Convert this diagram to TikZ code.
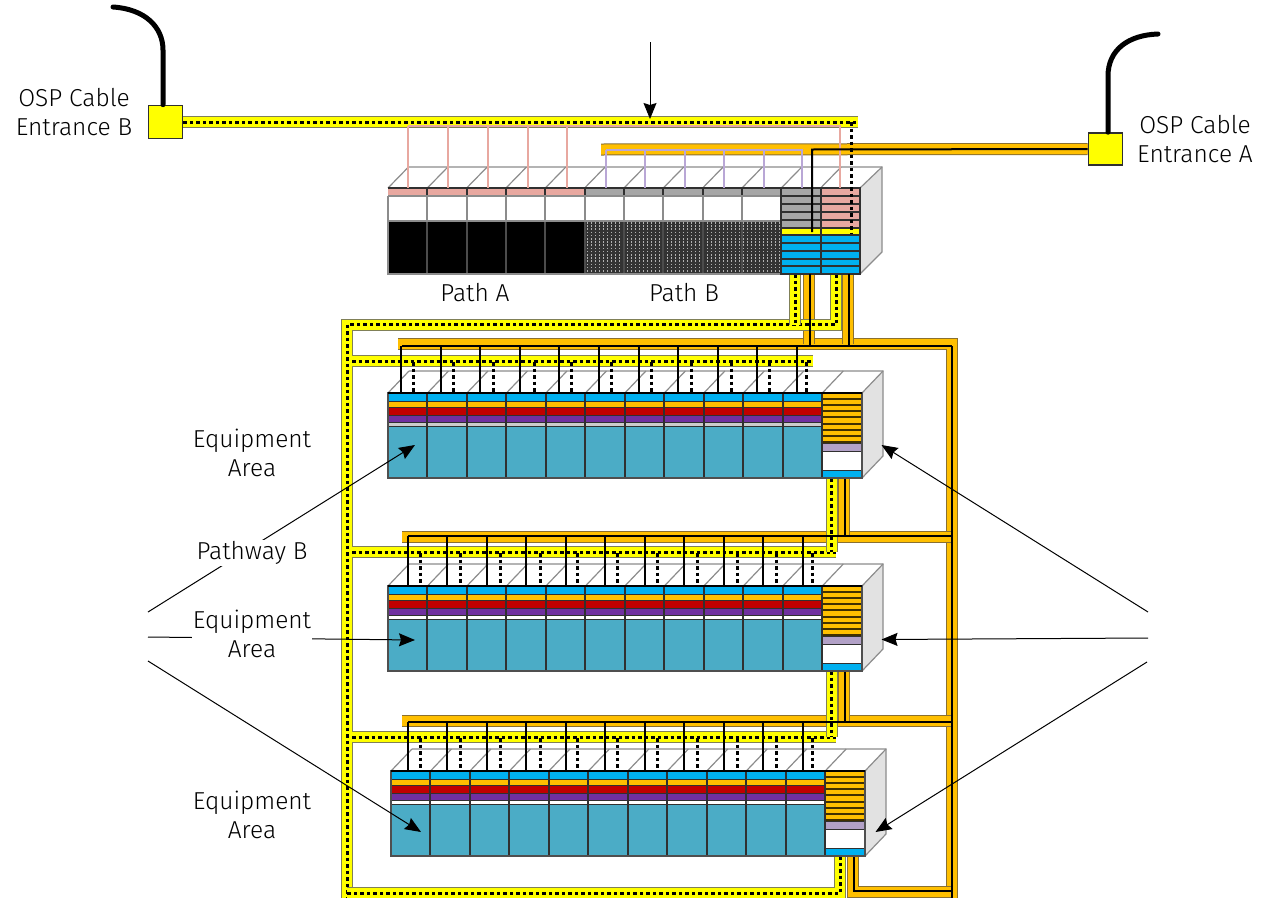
\documentclass[tikz,border=0pt]{standalone}
\usepackage{fontspec}
\setmainfont{Fira Sans Light}
\usetikzlibrary{arrows.meta}
\definecolor{ybord}{HTML}{808058}
\definecolor{ytray}{HTML}{FFFF00}
\definecolor{obord}{HTML}{8A7030}
\definecolor{otray}{HTML}{FFBF00}
\definecolor{pinkc}{HTML}{E8A8A0}
\definecolor{lilac}{HTML}{B9A7D6}
\definecolor{graycell}{HTML}{A6A6A6}
\definecolor{bluec}{HTML}{00B0F0}
\definecolor{redc}{HTML}{C00000}
\definecolor{purplec}{HTML}{7030A0}
\definecolor{tealc}{HTML}{4BACC6}
\definecolor{stripep}{HTML}{B2A1C7}
\definecolor{sideg}{HTML}{E2E2E2}
\definecolor{edge}{HTML}{8C8C8C}
\definecolor{darkedge}{HTML}{303030}
\tikzset{
  ybase/.style={line width=12pt,draw=ybord},
  yfill/.style={line width=10pt,draw=ytray},
  ydots/.style={line width=3pt,draw=black,dash pattern=on 3.5pt off 3pt},
  obase/.style={line width=12pt,draw=obord},
  ofill/.style={line width=10pt,draw=otray},
  blackline/.style={line width=2pt,draw=black},
  dashline/.style={line width=3pt,draw=black,dash pattern=on 3.5pt off 3pt},
  edgeline/.style={line width=1.2pt,draw=edge},
  sepline/.style={line width=2pt,draw=darkedge},
  cable/.style={line width=5pt,draw=black,line cap=round},
  entrance/.style={draw=darkedge,line width=1.6pt,fill=ytray,minimum width=34pt,minimum height=33pt,inner sep=0pt},
  lbl/.style={font=\fontsize{24.5}{28.5}\selectfont,align=center,text=black,inner sep=1pt},
  lblbg/.style={lbl,fill=white},
  pointer/.style={line width=1pt,draw=black,-{Stealth[length=16pt,width=13pt,inset=2pt]}},
}
\newcommand{\ypath}[1]{\draw[ybase] #1; \draw[yfill] #1; \draw[ydots] #1;}
\newcommand{\opath}[1]{\draw[obase] #1; \draw[ofill] #1;}
% equipment row: x0, ytop, cell width, thin band colour
\newcommand{\equiprow}[4]{%
  \begin{scope}[shift={(#1,#2)}]
    \pgfmathsetmacro{\cw}{#3}
    \pgfmathsetmacro{\xr}{round(12*\cw)}
    \pgfmathsetmacro{\xl}{round(11*\cw)}
    \fill[white] (0,0) -- (21,-22) -- ({\xr+21},-22) -- (\xr,0) -- cycle;
    \fill[sideg] (\xr,0) -- ({\xr+21},-22) -- ({\xr+21},63) -- (\xr,85) -- cycle;
    \draw[edgeline] (21,-22) -- ({\xr+21},-22) -- ({\xr+21},63) -- (\xr,85);
    \draw[edgeline] (\xr,0) -- ({\xr+21},-22);
    \foreach \i in {0,...,11} {\draw[edgeline] ({\i*\cw},0) -- ({\i*\cw+21},-22);}
    \fill[bluec]   (0,0) rectangle (\xl,8);
    \fill[otray]   (0,8) rectangle (\xl,14);
    \fill[redc]    (0,14) rectangle (\xl,22);
    \fill[purplec] (0,22) rectangle (\xl,29);
    \fill[#4] (0,29) rectangle (\xl,33);
    \fill[tealc]   (0,33) rectangle (\xl,85);
    \foreach \yy in {8,14,22,29,33} {\draw[line width=1pt,draw=darkedge] (0,\yy) -- (\xl,\yy);}
    \fill[otray] (\xl,0) rectangle (\xr,50);
    \foreach \k in {1,...,8} {\draw[line width=1.5pt,draw=black!75!otray] (\xl,{round(\k*6.1)}) -- (\xr,{round(\k*6.1)});}
    \fill[stripep] (\xl,50) rectangle (\xr,58);
    \fill[white] (\xl,58) rectangle (\xr,77);
    \fill[bluec] (\xl,77) rectangle (\xr,85);
    \foreach \yy in {50,58,77} {\draw[line width=1pt,draw=darkedge] (\xl,\yy) -- (\xr,\yy);}
    \foreach \i in {1,...,11} {\draw[sepline] ({round(\i*\cw)},0) -- ({round(\i*\cw)},85);}
    \draw[line width=1.4pt,draw=darkedge!85!white] (0,0) rectangle (\xr,85);
    \draw[line width=2pt,draw=black] (0,0) -- (\xr,0);
  \end{scope}%
}
\begin{document}
\begin{tikzpicture}[x=1pt,y=-1pt]
\useasboundingbox (0,0) rectangle (1274,897);
\fill[white] (0,0) rectangle (1274,897);

% ---- entrances and cables
\node[entrance] (entB) at (165.5,122) {};
\node[entrance,minimum height=32pt] (entA) at (1105.5,149) {};
\draw[cable] (113,7) .. controls (145,9) and (163,27) .. (163,50) -- (entB.north -| 163,105);
\draw[cable] (1158,34) .. controls (1128,35) and (1108,50) .. (1108,76) -- (entA.north -| 1108,133);

% ---- trays behind everything: orange
\opath{(601,149.5) -- (entA.west)}
\opath{(398,344) -- (951.5,344) -- (951.5,902)}
\opath{(402,537) -- (951.5,537)}
\opath{(402,721) -- (951.5,721)}
\opath{(808.5,274) -- (808.5,344)}
\opath{(848,274) -- (848,344)}
\opath{(844,478) -- (844,537)}
\opath{(844,671) -- (844,721)}
\opath{(853,856) -- (853,892) -- (951.5,892)}

% ---- yellow trays
\ypath{(entB.east) -- (858,122)}
\ypath{(836,274) -- (836,324.5) -- (347,324.5) -- (347,902)}
\ypath{(795,274) -- (795,324.5)}
\ypath{(352,361) -- (813,361)}
\ypath{(352,552) -- (836,552)}
\ypath{(352,737) -- (836,737)}
\ypath{(831.5,478) -- (831.5,552)}
\ypath{(831.5,671) -- (831.5,737)}
\ypath{(840,856) -- (840,893) -- (347,893)}

% ---- top unit
\begin{scope}
  \fill[white] (388,188) -- (408,167) -- (882,167) -- (860,188) -- cycle;
  \fill[sideg] (860,188) -- (882,167) -- (882,252) -- (860,274) -- cycle;
  \draw[edgeline] (408,167) -- (882,167) -- (882,252) -- (860,274);
  \draw[edgeline] (860,188) -- (882,167);
  \foreach \i in {0,...,11} {\draw[edgeline] ({388+\i*39.33},188) -- ({408.5+\i*39.33},167);}
  \fill[pinkc] (388,188) rectangle (585,196);
  \fill[black] (388,221) rectangle (585,274);
  \fill[graycell] (585,188) rectangle (781,196);
  \fill[black!80] (585,221) rectangle (781,274);
  \foreach \i in {0,...,48} {\draw[line width=1pt,draw=black!30,dash pattern=on 1.6pt off 1.6pt] ({587+\i*4},222) -- ({587+\i*4},274);}
  \foreach \i in {1,...,10} {
    \draw[edgeline,line width=1.5pt] ({round(388+\i*39.33)},196) -- ({round(388+\i*39.33)},221);
    \draw[line width=1.6pt,draw=black!70] ({round(388+\i*39.33)},221) -- ({round(388+\i*39.33)},274);
    \draw[sepline] ({round(388+\i*39.33)},188) -- ({round(388+\i*39.33)},196);
  }
  \draw[line width=1.2pt,draw=edge] (388,196) -- (388,274) -- (781,274);
  \draw[line width=1.2pt,draw=edge] (388,196) -- (781,196);
  \draw[line width=1.2pt,draw=edge] (388,221) -- (781,221);
  \fill[graycell] (781,188) rectangle (821,228);
  \fill[pinkc] (821,188) rectangle (860,228);
  \fill[ytray] (781,228) rectangle (860,235);
  \fill[bluec] (781,235) rectangle (860,274);
  \foreach \yy in {196,204,212,220,228,235,243,251,259,266} {\draw[line width=1.2pt,draw=darkedge] (781,\yy) -- (860,\yy);}
  \draw[sepline] (821,188) -- (821,274);
  \draw[line width=1.4pt,draw=darkedge] (781,188) rectangle (860,274);
  \draw[line width=2pt,draw=darkedge] (388,188) -- (860,188);
\end{scope}

% ---- top unit patch cords
\foreach \x in {408,448,488,528,567} {\draw[line width=2pt,draw=pinkc] (\x,126) -- (\x,188);}
\draw[line width=2pt,draw=pinkc] (408,126) -- (840,126) -- (840,188);
\draw[line width=2pt,draw=lilac] (606,150) -- (802,150) -- (802,188);
\foreach \x in {606,645,685,724,764} {\draw[line width=2pt,draw=lilac] (\x,150) -- (\x,188);}
\draw[blackline] (entA.west) -- (812,149.5) -- (812,232);
\draw[dashline] (851,122) -- (851,233);

% ---- black core of the orange trays
\draw[blackline] (810,274) -- (810,346);
\draw[blackline] (849,274) -- (849,346);
\draw[blackline] (402,346) -- (952,346);
\draw[blackline] (952,346) -- (952,902);
\draw[blackline] (845,478) -- (845,536);
\draw[blackline] (845,671) -- (845,722);
\draw[blackline] (408,536) -- (952,536);
\draw[blackline] (408,722) -- (952,722);
\draw[blackline] (854,856) -- (854,891) -- (952,891);

% ---- equipment rows
\equiprow{388}{393}{39.48}{white!80!black}
\equiprow{388}{586}{39.48}{white}
\equiprow{391}{771}{39.47}{white}

% ---- drops to the rows
\foreach \i in {0,...,10} {
  \draw[blackline] ({round(401+\i*39.6)},346) -- ({round(401+\i*39.6)},393);
  \draw[blackline] ({round(407.7+\i*39.53)},536) -- ({round(407.7+\i*39.53)},586);
  \draw[blackline] ({round(407.7+\i*39.53)},722) -- ({round(407.7+\i*39.53)},771);
}
\foreach \x in {413,453,493,534,571,611,651,691,731,769,806} {\draw[dashline] (\x,362) -- (\x,393);}
\foreach \x in {420,460,500,540,577,617,657,697,737,776,812} {
  \draw[dashline] (\x,553) -- (\x,586);
  \draw[dashline] (\x,738) -- (\x,771);
}

% ---- pointers
\coordinate (tTop) at (650,42);
\coordinate (hTop) at (650,119);
\coordinate (l1) at (148,612);
\coordinate (l2) at (148,637);
\coordinate (l3) at (148,661);
\coordinate (al1) at (415,445);
\coordinate (al2) at (415,640);
\coordinate (al3) at (421,832);
\coordinate (r1) at (1148,612);
\coordinate (r2) at (1148,638);
\coordinate (r3) at (1147,662);
\coordinate (ar1) at (881.5,445);
\coordinate (ar2) at (881.5,639.5);
\coordinate (ar3) at (875.5,832);
\draw[pointer] (tTop) -- (hTop);
\draw[pointer] (l1) -- (al1);
\draw[pointer] (l2) -- (al2);
\draw[pointer] (l3) -- (al3);
\draw[pointer] (r1) -- (ar1);
\draw[pointer] (r2) -- (ar2);
\draw[pointer] (r3) -- (ar3);

% ---- labels
\node[lbl] (lOspB) at (74,112) {OSP Cable\\Entrance B};
\node[lbl] (lOspA) at (1195,139) {OSP Cable\\Entrance A};
\node[lbl] (lPathA) at (475,293) {Path A};
\node[lbl] (lPathB) at (684,293) {Path B};
\node[lblbg] (lEq1) at (252,453) {Equipment\\Area};
\node[lblbg] (lPw) at (252,553) {Pathway B};
\node[lblbg] (lEq2) at (252,634) {Equipment\\Area};
\node[lblbg] (lEq3) at (252,815) {Equipment\\Area};
\end{tikzpicture}
\end{document}
